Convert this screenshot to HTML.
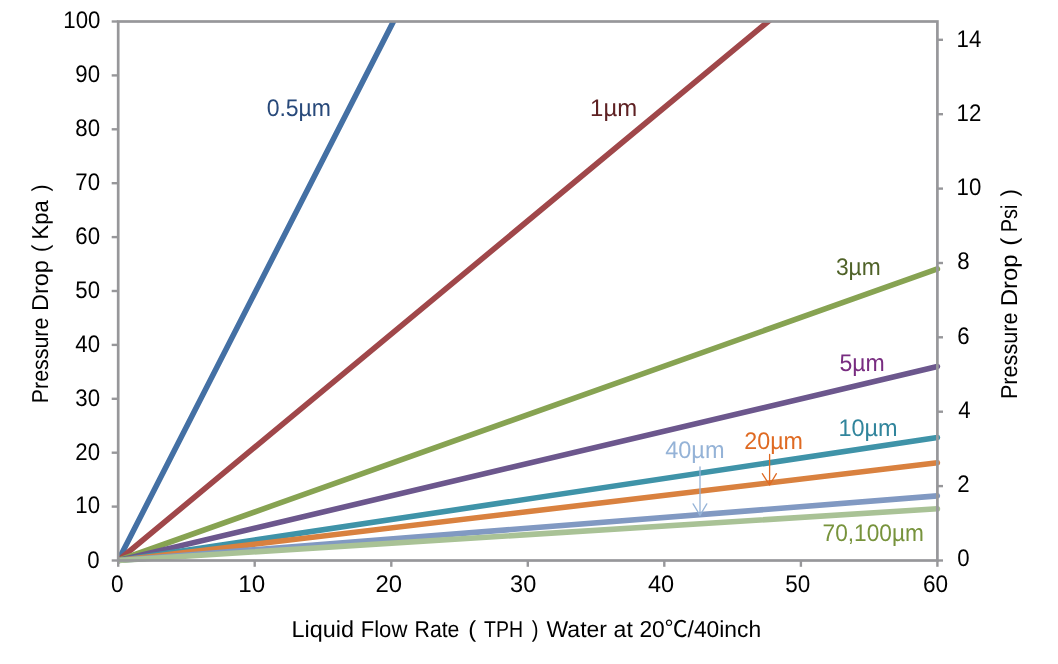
<!DOCTYPE html>
<html lang="en"><head><meta charset="utf-8"><title>Pressure Drop vs Liquid Flow Rate</title>
<style>html,body{margin:0;padding:0;background:#fff}svg{display:block}text{font-family:"Liberation Sans", "Noto Sans CJK SC", sans-serif;text-rendering:geometricPrecision}</style></head><body>
<svg width="1058" height="664" viewBox="0 0 1058 664">
<rect width="1058" height="664" fill="#fff"/>
<defs><clipPath id="plot"><rect x="118.2" y="21.5" width="825.2" height="545.0"/></clipPath></defs>
<g clip-path="url(#plot)" fill="none" stroke-width="5.6" stroke-linecap="round">
<line x1="118.2" y1="560.5" x2="404.4" y2="0.0" stroke="#4470a4"/>
<line x1="118.2" y1="560.5" x2="794.1" y2="0.0" stroke="#a0474a"/>
<line x1="118.2" y1="560.5" x2="937.4" y2="268.9" stroke="#87a352"/>
<line x1="118.2" y1="560.5" x2="937.4" y2="366.5" stroke="#6c578d"/>
<line x1="118.2" y1="560.5" x2="937.4" y2="437.5" stroke="#3f93a8"/>
<line x1="118.2" y1="560.5" x2="937.4" y2="462.8" stroke="#d9813f"/>
<line x1="118.2" y1="560.5" x2="937.4" y2="495.9" stroke="#8199c2"/>
<line x1="118.2" y1="560.5" x2="937.4" y2="508.8" stroke="#a9c296"/>
</g>
<g stroke="#97979a" stroke-width="2.7" fill="none">
<rect x="118.2" y="21.5" width="819.2" height="539.0"/>
<g stroke-width="2.4">
<line x1="111.7" y1="560.5" x2="118.2" y2="560.5"/>
<line x1="111.7" y1="506.6" x2="118.2" y2="506.6"/>
<line x1="111.7" y1="452.7" x2="118.2" y2="452.7"/>
<line x1="111.7" y1="398.8" x2="118.2" y2="398.8"/>
<line x1="111.7" y1="344.9" x2="118.2" y2="344.9"/>
<line x1="111.7" y1="291.0" x2="118.2" y2="291.0"/>
<line x1="111.7" y1="237.1" x2="118.2" y2="237.1"/>
<line x1="111.7" y1="183.2" x2="118.2" y2="183.2"/>
<line x1="111.7" y1="129.3" x2="118.2" y2="129.3"/>
<line x1="111.7" y1="75.4" x2="118.2" y2="75.4"/>
<line x1="111.7" y1="21.5" x2="118.2" y2="21.5"/>
<line x1="118.2" y1="560.5" x2="118.2" y2="566.8"/>
<line x1="254.7" y1="560.5" x2="254.7" y2="566.8"/>
<line x1="391.3" y1="560.5" x2="391.3" y2="566.8"/>
<line x1="527.8" y1="560.5" x2="527.8" y2="566.8"/>
<line x1="664.3" y1="560.5" x2="664.3" y2="566.8"/>
<line x1="800.9" y1="560.5" x2="800.9" y2="566.8"/>
<line x1="937.4" y1="560.5" x2="937.4" y2="566.8"/>
<line x1="937.4" y1="560.5" x2="943.0" y2="560.5"/>
<line x1="937.4" y1="486.1" x2="943.0" y2="486.1"/>
<line x1="937.4" y1="411.7" x2="943.0" y2="411.7"/>
<line x1="937.4" y1="337.3" x2="943.0" y2="337.3"/>
<line x1="937.4" y1="263.0" x2="943.0" y2="263.0"/>
<line x1="937.4" y1="188.6" x2="943.0" y2="188.6"/>
<line x1="937.4" y1="114.2" x2="943.0" y2="114.2"/>
<line x1="937.4" y1="39.8" x2="943.0" y2="39.8"/>
</g></g>
<g>
<text transform="translate(87.36 567.50) scale(0.9260 1)" font-size="24.0" fill="#000">0</text>
<text transform="translate(75.32 513.35) scale(0.9260 1)" font-size="24.0" fill="#000">10</text>
<text transform="translate(75.32 459.70) scale(0.9260 1)" font-size="24.0" fill="#000">20</text>
<text transform="translate(75.32 405.80) scale(0.9260 1)" font-size="24.0" fill="#000">30</text>
<text transform="translate(75.32 351.90) scale(0.9260 1)" font-size="24.0" fill="#000">40</text>
<text transform="translate(75.32 298.40) scale(0.9260 1)" font-size="24.0" fill="#000">50</text>
<text transform="translate(75.32 244.10) scale(0.9260 1)" font-size="24.0" fill="#000">60</text>
<text transform="translate(75.32 190.20) scale(0.9260 1)" font-size="24.0" fill="#000">70</text>
<text transform="translate(75.32 136.30) scale(0.9260 1)" font-size="24.0" fill="#000">80</text>
<text transform="translate(75.32 82.40) scale(0.9260 1)" font-size="24.0" fill="#000">90</text>
<text transform="translate(63.29 28.15) scale(0.9260 1)" font-size="24.0" fill="#000">100</text>
<text transform="translate(111.06 591.70) scale(0.9417 1)" font-size="24.0" fill="#000">0</text>
<text transform="translate(238.18 591.70) scale(1.0083 1)" font-size="24.0" fill="#000">10</text>
<text transform="translate(375.50 591.70) scale(0.9960 1)" font-size="24.0" fill="#000">20</text>
<text transform="translate(510.12 591.70) scale(0.9800 1)" font-size="24.0" fill="#000">30</text>
<text transform="translate(647.90 591.70) scale(0.9808 1)" font-size="24.0" fill="#000">40</text>
<text transform="translate(785.26 591.70) scale(0.9360 1)" font-size="24.0" fill="#000">50</text>
<text transform="translate(922.96 591.70) scale(0.9400 1)" font-size="24.0" fill="#000">60</text>
<text transform="translate(957.27 566.35) scale(0.9260 1)" font-size="24.0" fill="#000">0</text>
<text transform="translate(957.27 492.09) scale(0.9260 1)" font-size="24.0" fill="#000">2</text>
<text transform="translate(958.20 417.83) scale(0.9260 1)" font-size="24.0" fill="#000">4</text>
<text transform="translate(957.27 343.57) scale(0.9260 1)" font-size="24.0" fill="#000">6</text>
<text transform="translate(957.27 269.31) scale(0.9260 1)" font-size="24.0" fill="#000">8</text>
<text transform="translate(956.55 195.34) scale(0.9260 1)" font-size="24.0" fill="#000">10</text>
<text transform="translate(956.55 121.37) scale(0.9260 1)" font-size="24.0" fill="#000">12</text>
<text transform="translate(956.55 47.40) scale(0.9260 1)" font-size="24.0" fill="#000">14</text>
</g>
<g>
<text transform="translate(266.64 116.40) scale(0.9585 1)" font-size="24.0" fill="#28497a">0.5µm</text>
<text transform="translate(590.11 116.20) scale(0.9966 1)" font-size="24.0" fill="#5e2123">1µm</text>
<text transform="translate(835.95 275.10) scale(0.9489 1)" font-size="24.0" fill="#4f6228">3µm</text>
<text transform="translate(839.39 371.30) scale(0.9611 1)" font-size="24.0" fill="#782c80">5µm</text>
<text transform="translate(838.39 436.10) scale(0.9781 1)" font-size="24.0" fill="#31859c">10µm</text>
<text transform="translate(744.23 449.10) scale(0.9707 1)" font-size="24.0" fill="#df6a22">20µm</text>
<text transform="translate(665.20 458.10) scale(0.9805 1)" font-size="24.0" fill="#95b3d7">40µm</text>
<text transform="translate(822.56 541.10) scale(0.9448 1)" font-size="24.0" fill="#77933c">70,100µm</text>
</g>
<g fill="none" stroke-width="1.3" stroke-linecap="round" stroke-linejoin="round">
<path d="M700.0 466.8V515.3M693.1 503.9L700.0 515.3L706.8 503.9" stroke="#95b3d7"/>
<path d="M769.6 454.5V485M762.3 473.7L769.6 485L776.4 473.7" stroke="#df6a22"/>
</g>
<g>
<text y="636.90" font-size="23.0" fill="#000"><tspan x="291.57" textLength="62.45" lengthAdjust="spacingAndGlyphs">Liquid</tspan> <tspan x="360.68" textLength="46.70" lengthAdjust="spacingAndGlyphs">Flow</tspan> <tspan x="414.55" textLength="44.90" lengthAdjust="spacingAndGlyphs">Rate</tspan> <tspan x="468.17" textLength="7.93" lengthAdjust="spacingAndGlyphs">(</tspan> <tspan x="484.00" textLength="38.95" lengthAdjust="spacingAndGlyphs">TPH</tspan> <tspan x="531.80" textLength="6.78" lengthAdjust="spacingAndGlyphs">)</tspan> <tspan x="546.50" textLength="60.50" lengthAdjust="spacingAndGlyphs">Water</tspan> <tspan x="613.60" textLength="19.19" lengthAdjust="spacingAndGlyphs">at</tspan> <tspan x="639.41" textLength="121.74" lengthAdjust="spacingAndGlyphs">20℃/40inch</tspan></text>
<text transform="translate(48.40 0) rotate(-90)" y="0" font-size="23.0" fill="#000"><tspan x="-403.16" textLength="85.43" lengthAdjust="spacingAndGlyphs">Pressure</tspan> <tspan x="-311.04" textLength="50.92" lengthAdjust="spacingAndGlyphs">Drop</tspan> <tspan x="-252.18" textLength="7.54" lengthAdjust="spacingAndGlyphs">(</tspan> <tspan x="-239.41" textLength="39.05" lengthAdjust="spacingAndGlyphs">Kpa</tspan> <tspan x="-191.50" textLength="7.03" lengthAdjust="spacingAndGlyphs">)</tspan></text>
<text transform="translate(1017.00 0) rotate(-90)" y="0" font-size="23.0" fill="#000"><tspan x="-399.08" textLength="86.57" lengthAdjust="spacingAndGlyphs">Pressure</tspan> <tspan x="-306.39" textLength="51.98" lengthAdjust="spacingAndGlyphs">Drop</tspan> <tspan x="-245.65" textLength="8.06" lengthAdjust="spacingAndGlyphs">(</tspan> <tspan x="-232.23" textLength="27.66" lengthAdjust="spacingAndGlyphs">Psi</tspan> <tspan x="-196.60" textLength="7.42" lengthAdjust="spacingAndGlyphs">)</tspan></text>
</g>
</svg></body></html>
